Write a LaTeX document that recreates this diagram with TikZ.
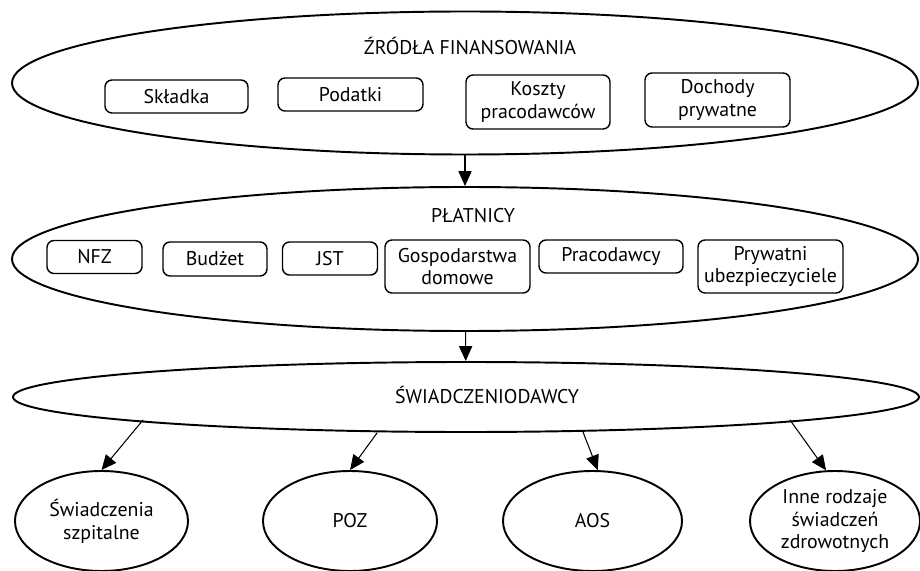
\documentclass[tikz,border=0pt]{standalone}
\usepackage{fontspec}
\setmainfont{PT Sans}
\usetikzlibrary{shapes.geometric,arrows.meta}

\begin{document}
\begin{tikzpicture}[x=1cm,y=1cm,
  line cap=round,line join=round,
  every node/.style={font=\fontsize{11.3}{13}\selectfont},
  big/.style={draw,line width=1.1pt,ellipse,minimum width=18.12cm,inner sep=0pt},
  bx/.style={draw,line width=.8pt,rounded corners=4pt,align=center,inner sep=1pt},
  ov/.style={draw,line width=1.1pt,ellipse,align=center,minimum height=2cm,inner sep=0pt},
  ar/.style={line width=.6pt,-{Triangle[length=8.5pt,width=7.5pt]}}]

  \useasboundingbox (0,0) rectangle (18.4,11.4);

  %% ---- level 1: sources of financing
  \node[big,minimum height=2.86cm] (src) at (9.30,9.74) {};
  \node (srcT) at (9.40,10.48) {ŹRÓDŁA FINANSOWANIA};
  \node[bx,minimum width=2.86cm,minimum height=.66cm] (skl) at (3.53,9.47) {Składka};
  \node[bx,minimum width=2.90cm,minimum height=.66cm] (pod) at (7.01,9.51) {Podatki};
  \node[bx,minimum width=2.88cm,minimum height=1.08cm] (kos) at (10.76,9.36) {Koszty\\pracodawców};
  \node[bx,minimum width=2.90cm,minimum height=1.08cm] (doch) at (14.35,9.40) {Dochody\\prywatne};

  %% ---- level 2: payers
  \node[big,minimum height=2.88cm] (pay) at (9.30,6.22) {};
  \node (payT) at (9.46,7.08) {PŁATNICY};
  \node[bx,minimum width=1.90cm,minimum height=.66cm] (nfz) at (1.89,6.26) {NFZ};
  \node[bx,minimum width=2.08cm,minimum height=.68cm] (bud) at (4.30,6.22) {Budżet};
  \node[bx,minimum width=1.90cm,minimum height=.66cm] (jst) at (6.60,6.23) {JST};
  \node[bx,minimum width=2.90cm,minimum height=1.06cm] (gosp) at (9.15,6.07) {Gospodarstwa\\domowe};
  \node[bx,minimum width=2.88cm,minimum height=.66cm] (prac) at (12.22,6.27) {Pracodawcy};
  \node[bx,minimum width=2.90cm,minimum height=1.06cm] (pryw) at (15.41,6.07) {Prywatni\\ubezpieczyciele};

  %% ---- level 3: providers
  \node[big,minimum height=1.40cm] (prov) at (9.32,3.46) {};
  \node (provT) at (9.74,3.50) {ŚWIADCZENIODAWCY};
  % where the four arrows leave the providers' oval
  \coordinate (p1) at (2.86,3.00);
  \coordinate (p2) at (7.54,2.74);
  \coordinate (p3) at (11.66,2.76);
  \coordinate (p4) at (15.80,3.00);

  % kinds of services
  \node[ov,minimum width=3.46cm] (szp) at (2.03,.98) {Świadczenia\\szpitalne};
  \node[ov,minimum width=3.48cm] (poz) at (7.00,.98) {POZ};
  \node[ov,minimum width=3.58cm] (aos) at (11.85,.98) {AOS};
  \node[ov,minimum width=3.40cm] (inne) at (16.70,.98) {Inne rodzaje\\świadczeń\\zdrowotnych};

  %% ---- arrows
  \draw[ar] (src) -- (pay);
  \draw[ar] (pay) -- (prov);
  \draw[ar] (p1) -- (szp.north);
  \draw[ar] (p2) -- (poz.north);
  \draw[ar] (p3) -- (aos.84);
  \draw[ar] (p4) -- (inne.100);
\end{tikzpicture}
\end{document}
